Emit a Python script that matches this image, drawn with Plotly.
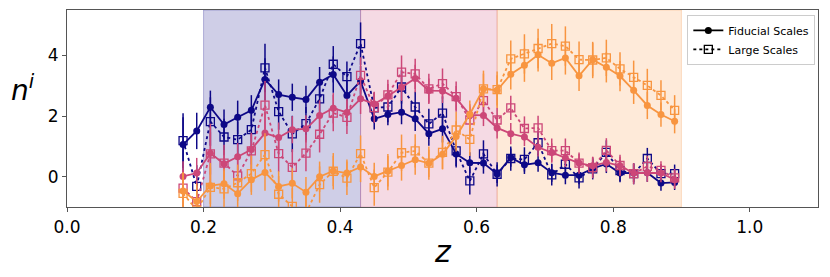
import plotly.graph_objects as go

z = [0.17, 0.19, 0.21, 0.23, 0.25, 0.27, 0.29, 0.31, 0.33, 0.35, 0.37, 0.39, 0.41,
     0.43, 0.45, 0.47, 0.49, 0.51, 0.53, 0.55, 0.57, 0.59, 0.61, 0.63, 0.65, 0.67,
     0.69, 0.71, 0.73, 0.75, 0.77, 0.79, 0.81, 0.83, 0.85, 0.87, 0.89]

navy_fid = [1.06, 1.51, 2.29, 1.72, 1.96, 2.19, 3.21, 2.71, 2.62, 2.55, 3.12, 3.37, 2.68,
            3.15, 1.91, 2.05, 2.13, 1.91, 1.42, 1.58, 0.75, 0.46, 0.45, 0.09, 0.63, 0.39,
            0.46, 0.13, 0.05, 0.05, 0.27, 0.42, 0.12, 0.12, 0.13, -0.21, -0.19]
navy_fid_err = [0.9, 0.6, 0.55, 0.5, 0.55, 0.5, 0.7, 0.5, 0.45, 0.45, 0.5, 0.6, 0.5,
                0.5, 0.35, 0.35, 0.4, 0.4, 0.4, 0.45, 0.45, 0.35, 0.35, 0.3, 0.3, 0.3,
                0.3, 0.3, 0.3, 0.3, 0.3, 0.3, 0.3, 0.3, 0.3, 0.25, 0.25]
navy_large = [1.19, -0.32, 1.82, 1.31, 1.22, 1.55, 3.59, 2.15, 1.41, 1.75, 2.57, 3.71, 3.30,
              4.39, 2.27, 2.30, 2.96, 2.30, 1.74, 2.10, 0.85, -0.14, 0.75, 0.08, 0.60, 0.57,
              1.12, 0.06, 0.41, -0.04, 0.26, 0.80, 0.20, 0.10, 0.60, 0.10, 0.10]
navy_large_err = [0.9, 0.7, 0.8, 0.6, 0.6, 0.6, 0.8, 0.6, 0.6, 0.55, 0.6, 0.6, 0.5,
                  0.7, 0.5, 0.5, 0.55, 0.5, 0.5, 0.55, 0.5, 0.45, 0.45, 0.4, 0.4, 0.4,
                  0.4, 0.35, 0.35, 0.35, 0.35, 0.4, 0.35, 0.35, 0.35, 0.3, 0.3]

pink_fid = [0.01, 0.12, 0.77, 0.43, 0.66, 0.90, 1.44, 1.29, 1.55, 1.58, 2.02, 2.26, 2.12,
            2.57, 2.40, 2.66, 2.95, 3.24, 2.84, 2.83, 2.59, 2.04, 2.02, 1.61, 1.42, 1.31,
            0.97, 0.80, 0.62, 0.45, 0.36, 0.47, 0.36, 0.12, 0.13, 0.12, -0.10]
pink_fid_err = [0.5, 0.5, 0.7, 0.45, 0.45, 0.5, 0.7, 0.5, 0.45, 0.45, 0.5, 0.5, 0.45,
                0.5, 0.4, 0.4, 0.45, 0.45, 0.4, 0.4, 0.4, 0.35, 0.35, 0.35, 0.35, 0.3,
                0.3, 0.3, 0.3, 0.3, 0.3, 0.3, 0.3, 0.3, 0.3, 0.3, 0.3]
pink_large = [-0.38, -0.82, 0.75, 0.45, 0.03, 0.85, 2.36, 0.76, 0.31, 0.78, 1.40, 2.10, 1.96,
              3.34, 2.28, 2.70, 3.45, 3.39, 2.90, 3.07, 2.64, 1.87, 2.51, 1.87, 2.27, 1.59,
              1.61, 0.86, 0.86, 0.45, 0.30, 0.87, 0.37, 0.10, 0.34, 0.21, -0.04]
pink_large_err = [0.6, 0.6, 1.0, 0.6, 0.6, 0.6, 0.8, 0.6, 0.6, 0.6, 0.6, 0.6, 0.55,
                  0.6, 0.5, 0.5, 0.55, 0.5, 0.5, 0.5, 0.5, 0.45, 0.45, 0.4, 0.4, 0.4,
                  0.4, 0.4, 0.4, 0.35, 0.35, 0.4, 0.35, 0.35, 0.35, 0.3, 0.3]

orange_fid = [-0.47, -0.82, -0.30, -0.23, -0.56, -0.10, 0.14, -0.32, -0.22, -0.51, 0.00, 0.19, 0.12,
              0.32, 0.01, 0.18, 0.37, 0.56, 0.44, 0.74, 1.33, 2.06, 2.90, 2.85, 3.38, 3.68,
              4.02, 3.74, 3.92, 3.33, 3.86, 3.61, 3.32, 2.85, 2.35, 2.05, 1.83]
orange_fid_err = [0.6, 0.6, 0.6, 0.5, 0.5, 0.5, 0.6, 0.5, 0.5, 0.5, 0.5, 0.5, 0.45,
                  0.5, 0.45, 0.5, 0.5, 0.5, 0.45, 0.5, 0.5, 0.45, 0.5, 0.5, 0.5, 0.55,
                  0.55, 0.55, 0.55, 0.5, 0.55, 0.5, 0.5, 0.45, 0.45, 0.4, 0.4]
orange_large = [-0.55, -1.10, -0.35, -0.40, -0.20, 0.10, 0.73, -0.58, -0.98, -1.20, -0.26, 0.18, -0.05,
                0.76, -0.36, 0.15, 0.79, 0.85, 0.45, 0.80, 1.54, 1.23, 2.90, 2.87, 3.89, 4.05,
                4.23, 4.39, 4.31, 3.86, 3.85, 3.92, 3.56, 3.28, 3.01, 2.68, 2.19]
orange_large_err = [0.7, 0.7, 0.8, 0.6, 0.6, 0.6, 0.7, 0.6, 0.6, 0.6, 0.6, 0.6, 0.55,
                    0.6, 0.6, 0.6, 0.6, 0.55, 0.55, 0.55, 0.6, 0.55, 0.6, 0.6, 0.6, 0.65,
                    0.65, 0.65, 0.65, 0.6, 0.6, 0.6, 0.55, 0.55, 0.55, 0.5, 0.5]

bands = [(0.20, 0.43), (0.43, 0.63), (0.63, 0.90)]
colors = ["#0d0887", "#cc4778", "#f89540"]
band_fill = ["rgba(13,8,135,0.2)", "rgba(204,71,120,0.2)", "rgba(248,149,64,0.2)"]
band_edge = ["rgba(13,8,135,0.25)", "rgba(204,71,120,0.25)", "rgba(248,149,64,0.25)"]

xticks = [0.0, 0.2, 0.4, 0.6, 0.8, 1.0]
xticklabels = ["0.0", "0.2", "0.4", "0.6", "0.8", "1.0"]
yticks = [0, 2, 4]

series = [
    (navy_fid, navy_fid_err, navy_large, navy_large_err),
    (pink_fid, pink_fid_err, pink_large, pink_large_err),
    (orange_fid, orange_fid_err, orange_large, orange_large_err),
]

fig = go.Figure()

for (b0, b1), fc, ec in zip(bands, band_fill, band_edge):
    fig.add_vrect(x0=b0, x1=b1, fillcolor=fc, line=dict(color=ec, width=1),
                  layer="below")

for c, (f, fe, l, le) in zip(colors, series):
    fig.add_trace(go.Scatter(
        x=z, y=l, mode="lines+markers", showlegend=False,
        line=dict(color=c, width=1.8, dash="dot"),
        marker=dict(symbol="square-open", size=8, color=c, line=dict(width=1.3, color=c)),
        error_y=dict(type="data", array=le, color=c, thickness=1.5, width=0),
    ))
    fig.add_trace(go.Scatter(
        x=z, y=f, mode="lines+markers", showlegend=False,
        line=dict(color=c, width=1.8),
        marker=dict(symbol="circle", size=7, color=c),
        error_y=dict(type="data", array=fe, color=c, thickness=1.5, width=0),
    ))

# legend proxies
fig.add_trace(go.Scatter(
    x=[None], y=[None], mode="lines+markers", name="Fiducial Scales",
    line=dict(color="black", width=1.8),
    marker=dict(symbol="circle", size=7, color="black"),
))
fig.add_trace(go.Scatter(
    x=[None], y=[None], mode="lines+markers", name="Large Scales",
    line=dict(color="black", width=1.8, dash="dot"),
    marker=dict(symbol="square-open", size=8, color="black", line=dict(width=1.3, color="black")),
))

font = "DejaVu Sans, Arial, sans-serif"
# page body has an 8px margin, so the figure is sized/offset to compensate
fig.update_layout(
    width=822, height=269,
    margin=dict(l=59, r=12, t=2, b=70, autoexpand=False),
    plot_bgcolor="white", paper_bgcolor="white",
    font=dict(family=font, color="black"),
    legend=dict(x=0.826, y=0.975, xanchor="left", yanchor="top",
                bgcolor="rgba(255,255,255,0.85)", bordercolor="#cccccc", borderwidth=1,
                font=dict(size=11, family=font), tracegroupgap=0, itemwidth=30),
    xaxis=dict(range=[0, 1.1], tickvals=xticks, ticktext=xticklabels, automargin=False,
               showgrid=False, zeroline=False, showline=True, mirror=True,
               linecolor="#555555", linewidth=1.2, ticks="outside", ticklen=4,
               tickcolor="#555555", tickfont=dict(size=17)),
    yaxis=dict(range=[-1, 5.5], tickvals=yticks, automargin=False,
               showgrid=False, zeroline=False, showline=True, mirror=True,
               linecolor="#555555", linewidth=1.2, ticks="outside", ticklen=4,
               tickcolor="#555555", tickfont=dict(size=17)),
    annotations=[
        dict(text="<i>n</i><sup><i>i</i></sup>", xref="paper", yref="paper",
             x=-0.058, y=0.60, xanchor="center", yanchor="middle",
             showarrow=False, font=dict(size=28, family=font)),
        dict(text="<i>z</i>", xref="paper", yref="paper",
             x=0.5, y=-0.225, xanchor="center", yanchor="middle",
             showarrow=False, font=dict(size=30, family=font)),
    ],
)

fig.write_html("out.html")
